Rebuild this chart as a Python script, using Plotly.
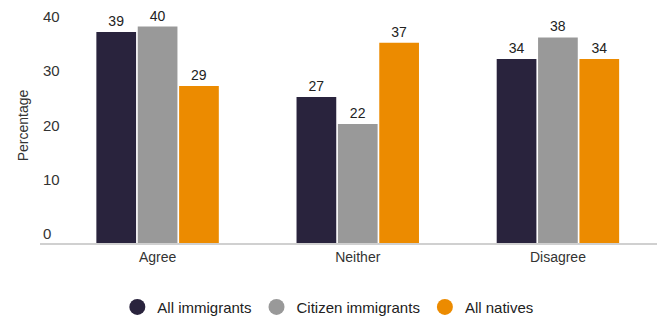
import plotly.graph_objects as go

categories = ["Agree", "Neither", "Disagree"]
series_names = ["All immigrants", "Citizen immigrants", "All natives"]
all_immigrants = [39, 27, 34]
citizen_immigrants = [40, 22, 38]
all_natives = [29, 37, 34]
y_ticks = [0, 10, 20, 30, 40]

colors = ["#29233d", "#999999", "#ec8b00"]
values = [all_immigrants, citizen_immigrants, all_natives]

FONT = "Liberation Sans"

fig = go.Figure()
for name, vals, col in zip(series_names, values, colors):
    fig.add_trace(go.Bar(
        x=categories, y=vals, name=name, marker_color=col, marker_line_width=0,
        text=vals, texttemplate="%{text}", textposition="outside",
        textfont=dict(family=FONT, size=14, color="#222222"),
        cliponaxis=False, showlegend=False,
    ))
for name, col in zip(series_names, colors):
    fig.add_trace(go.Scatter(
        x=[None], y=[None], mode="markers", name=name,
        marker=dict(symbol="circle", size=20, color=col),
        showlegend=True,
    ))

# page body has an 8px margin, so the figure is 657x313 at offset (8,8)
fig.update_layout(
    width=657, height=313,
    margin=dict(l=32, r=6, t=0, b=78, autoexpand=False),
    plot_bgcolor="white", paper_bgcolor="white",
    barmode="group", bargap=0.38, bargroupgap=0.04,
    font=dict(family=FONT, size=14, color="#333333"),
    legend=dict(
        orientation="h", x=0.465, xanchor="center", y=-0.203, yanchor="top",
        font=dict(family=FONT, size=15, color="#222222"),
        itemsizing="trace",
    ),
    xaxis=dict(
        range=[-0.5875, 2.505], showline=True, linecolor="#d0d0d0", linewidth=2,
        ticks="", showgrid=False, zeroline=False, automargin=False,
        ticklabelstandoff=0,
        tickfont=dict(family=FONT, size=14, color="#333333"),
    ),
    yaxis=dict(
        range=[0, 43.44], tickvals=y_ticks, showgrid=False, zeroline=False,
        showline=False, ticks="", ticklabelposition="inside top",
        ticklabelstandoff=0, ticklabelshift=1, automargin=False,
        tickfont=dict(family=FONT, size=15, color="#333333"),
        title=dict(text="Percentage", font=dict(family=FONT, size=14, color="#333333"), standoff=11),
    ),
)

fig.write_html("out.html")
